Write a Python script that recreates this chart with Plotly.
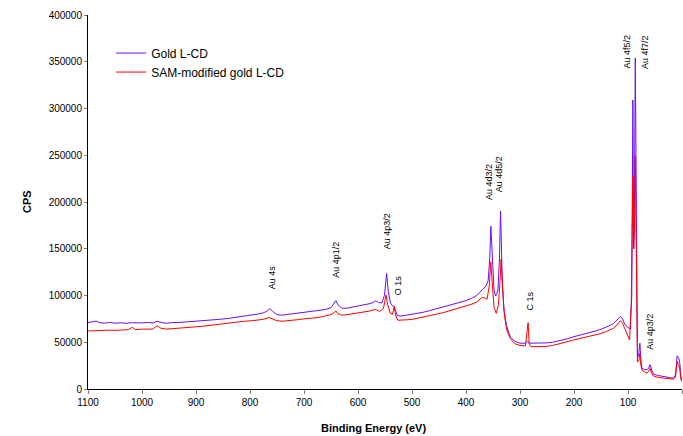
import plotly.graph_objects as go

# Binding energy (eV) and counts per second for Gold L-CD
be_gold = [1100, 1092, 1085, 1078, 1070, 1060, 1050, 1040, 1030, 1018, 1008, 1000, 990, 980, 972, 965, 955,
           945, 930, 915, 900, 885, 870, 855, 840, 825, 810, 795, 785, 775, 768, 763, 758, 750, 740,
           730, 720, 710, 700, 690, 680, 670, 660, 650, 645, 641, 637, 630, 622, 615, 607, 600, 592,
           585, 578, 572, 567, 562, 556, 551, 547, 544, 540, 536, 533, 530, 527, 520, 510, 500, 490,
           480, 470, 460, 450, 440, 430, 420, 410, 400, 390, 380, 370, 363, 359, 356, 354, 351, 348,
           345, 341, 338, 336, 333, 330, 325, 318, 310, 300, 290, 286, 283, 270, 260, 250, 240, 230,
           220, 210, 200, 190, 180, 170, 160, 150, 140, 133, 127, 122, 118, 114, 110, 106, 100, 96, 93,
           91, 89.5, 88, 86.5, 84.5, 82.5, 80, 78, 76, 74, 70, 65, 62, 59, 56, 53, 45, 35, 25, 16, 12,
           9, 6, 4, 2, 0]
cps_gold = [71000, 71600, 72600, 70900, 70500, 71100, 70400, 70800, 70300, 70900, 70500, 70700, 71200,
            70600, 72500, 71200, 70300, 71000, 71200, 71800, 72000, 73100, 73500, 74600, 75500, 76600,
            78000, 79300, 80200, 81500, 83500, 86000, 83000, 79500, 79000, 79800, 80500, 81300, 82000,
            82400, 83000, 84100, 85000, 87000, 91000, 94500, 90000, 86500, 86300, 87000, 87900, 88500,
            89200, 90000, 91300, 92500, 94500, 92500, 92000, 100000, 123500, 105000, 92000, 89000,
            88500, 83000, 78500, 78000, 78900, 79500, 80600, 82000, 83400, 85000, 86200, 88000, 89300,
            91000, 92600, 94500, 97000, 100000, 106000, 110000, 116000, 140000, 174000, 130000, 105000,
            99500, 105000, 140000, 190000, 120000, 86000, 68000, 56000, 51000, 49000, 49000, 51000,
            49000, 48800, 49000, 49300, 50000, 51100, 52500, 54000, 56000, 57400, 59000, 60600, 62000,
            63900, 66000, 68000, 70000, 72500, 75000, 77500, 75000, 69000, 66000, 64000, 100000, 309000,
            150000, 200000, 354000, 120000, 33000, 38000, 49000, 30000, 22000, 21000, 20500, 22000,
            26000, 20000, 16000, 14500, 13500, 12500, 11500, 15000, 35500, 33000, 27500, 13000, 9500]

# SAM-modified gold L-CD
be_sam = [1100, 1092, 1085, 1078, 1070, 1060, 1050, 1040, 1030, 1025, 1018, 1012, 1000, 990, 980, 972,
          965, 955, 945, 930, 915, 900, 885, 870, 855, 840, 825, 810, 795, 785, 775, 765, 760, 750, 740,
          730, 720, 710, 700, 690, 680, 670, 660, 650, 645, 641, 637, 630, 622, 615, 607, 600, 592, 585,
          578, 572, 567, 560, 553, 548, 545, 540, 536, 533, 530, 526, 520, 510, 500, 490, 480, 470, 460,
          450, 440, 430, 420, 410, 400, 390, 380, 370, 365, 361, 357, 354, 351, 348, 344, 340, 337, 335,
          332, 329, 325, 318, 310, 300, 290, 287, 285, 283, 280, 270, 260, 250, 240, 230, 220, 210, 200,
          190, 180, 170, 160, 150, 140, 133, 127, 122, 118, 114, 110, 105, 100, 97, 94, 91, 89.5, 88,
          86.5, 84.5, 82.5, 80, 78, 76, 74, 70, 65, 62, 59, 56, 53, 45, 35, 25, 16, 12, 9, 6, 4, 2, 0]
cps_sam = [62000, 62300, 62600, 62100, 62500, 63000, 62700, 62800, 63100, 63500, 66000, 63500, 64000,
           64300, 64100, 67700, 65000, 64000, 64600, 65000, 65700, 66500, 67300, 68500, 69400, 70500,
           71400, 72500, 73100, 73500, 74500, 76500, 75500, 73000, 72500, 72900, 73500, 74200, 75000,
           75300, 76000, 77000, 78000, 79500, 81500, 83500, 80500, 79000, 79400, 80000, 80900, 81500,
           81900, 82500, 83400, 84500, 85000, 83000, 86000, 100500, 90000, 81000, 80000, 88000, 78000,
           73500, 73500, 74000, 74500, 75600, 77000, 78200, 79500, 80600, 82000, 83700, 85500, 86900,
           88500, 90600, 93000, 98000, 97500, 96000, 110000, 136000, 110000, 87000, 81000, 90000, 115000,
           139000, 105000, 80000, 64000, 54000, 48500, 46500, 46000, 60000, 71000, 48000, 45500, 45200,
           45300, 45700, 46500, 47800, 49500, 51000, 52500, 53800, 55000, 56200, 57500, 59400, 61500,
           63200, 65000, 67500, 70000, 73000, 70000, 63000, 56000, 52500, 90000, 228000, 150000, 170000,
           249000, 110000, 29000, 30000, 38000, 25000, 20000, 18500, 17000, 18500, 22000, 16500, 14000,
           12500, 12000, 11200, 10400, 13000, 29500, 26000, 20500, 10000, 7800]

series_names = ["Gold L-CD", "SAM-modified gold L-CD"]

peak_labels = ["Au 4s", "Au 4p1/2", "Au 4p3/2", "O 1s", "Au 4d3/2", "Au 4d5/2", "C 1s",
               "Au 4f5/2", "Au 4f7/2", "Au 4p3/2"]
peak_label_be = [760, 641, 547, 527, 358.7, 338.3, 281.5, 102.4, 69.8, 59.3]
peak_label_cps = [104100, 116600, 146800, 98700, 200300, 208600, 82400, 340400, 340400, 39900]

FONT = "Arial, Liberation Sans, sans-serif"

fig = go.Figure()
fig.add_trace(go.Scatter(x=be_gold, y=cps_gold, mode="lines", name=series_names[0],
                         line=dict(color="#6a0dff", width=1)))
fig.add_trace(go.Scatter(x=be_sam, y=cps_sam, mode="lines", name=series_names[1],
                         line=dict(color="#ff0000", width=1)))

for txt, bx, by in zip(peak_labels, peak_label_be, peak_label_cps):
    fig.add_annotation(x=bx, y=by, xref="x", yref="y", text=txt, showarrow=False,
                       textangle=-90, xanchor="center", yanchor="bottom",
                       font=dict(family=FONT, size=9, color="black"))

# axis titles
fig.add_annotation(x=(373 - 88) / 594, y=(389 - 428) / 374, xref="paper", yref="paper",
                   text="<b>Binding Energy (eV)</b>", showarrow=False,
                   xanchor="center", yanchor="middle",
                   font=dict(family=FONT, size=11, color="black"))
fig.add_annotation(x=(27 - 88) / 594, y=(389 - 202) / 374, xref="paper", yref="paper",
                   text="<b>CPS</b>", showarrow=False, textangle=-90,
                   xanchor="center", yanchor="middle",
                   font=dict(family=FONT, size=11, color="black"))

fig.update_layout(
    width=683, height=436,
    margin=dict(l=88, r=1, t=15, b=47),
    paper_bgcolor="white", plot_bgcolor="white",
    font=dict(family=FONT, size=10, color="black"),
    showlegend=True,
    legend=dict(x=0.039, y=0.937, xanchor="left", yanchor="top",
                bgcolor="rgba(0,0,0,0)", font=dict(family=FONT, size=12, color="black"),
                tracegroupgap=0),
    xaxis=dict(range=[1100, 0], tickmode="linear", tick0=0, dtick=100,
               showline=True, linecolor="black", linewidth=1, showgrid=False, zeroline=False,
               ticks="outside", ticklen=4, tickcolor="#808080",
               tickfont=dict(family=FONT, size=10, color="black"), automargin=False),
    yaxis=dict(range=[0, 400000], tickmode="linear", tick0=0, dtick=50000, tickformat="d",
               showline=True, linecolor="black", linewidth=1, showgrid=False, zeroline=False,
               ticks="outside", ticklen=3, tickcolor="#808080",
               tickfont=dict(family=FONT, size=10, color="black"), automargin=False),
)

fig.write_html("out.html")
